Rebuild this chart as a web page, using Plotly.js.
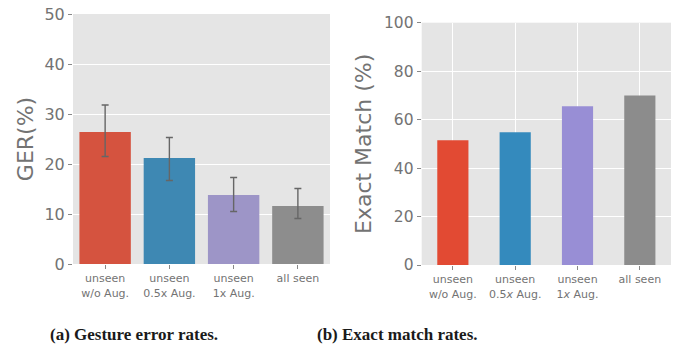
<!DOCTYPE html>
<html>
<head>
<meta charset="utf-8">
<script src="https://cdn.plot.ly/plotly-3.0.1.min.js"></script>
<style>html,body{margin:0;padding:0;background:#fff;}#chart{width:677px;height:348px;}</style>
</head>
<body>
<div id="chart"></div>
<script>
// Data
const gerCategories = ['unseen<br>w/o Aug.', 'unseen<br>0.5x Aug.', 'unseen<br>1x Aug.', 'all seen'];
const gerValues = [26.4, 21.2, 13.8, 11.6];
const gerUpper = [31.8, 25.3, 17.3, 15.1];
const gerLower = [21.5, 16.7, 10.5, 9.1];
const emCategories = ['unseen<br>w/o Aug.', 'unseen<br>0.5<i>x</i> Aug.', 'unseen<br>1<i>x</i> Aug.', 'all seen'];
const emValues = [51.5, 54.8, 65.5, 70.0];
const gerColors = ['#D5533F', '#3E88B3', '#9D95C7', '#8D8D8D'];
const emColors = ['#E24A33', '#348ABD', '#988ED5', '#8C8C8C'];
const gerTicks = [0, 10, 20, 30, 40, 50];
const emTicks = [0, 20, 40, 60, 80, 100];

const W = 677, H = 348;
const px = v => v / W, py = v => 1 - v / H;

const traces = [
  {
    type: 'bar', x: gerCategories, y: gerValues, xaxis: 'x', yaxis: 'y',
    width: 0.8, marker: {color: gerColors}, showlegend: false, hoverinfo: 'y',
    error_y: {
      type: 'data', symmetric: false,
      array: gerValues.map((v, i) => gerUpper[i] - v),
      arrayminus: gerValues.map((v, i) => v - gerLower[i]),
      color: '#666', thickness: 1.4, width: 3.5
    }
  },
  {
    type: 'bar', x: emCategories, y: emValues, xaxis: 'x2', yaxis: 'y2',
    width: 0.5, marker: {color: emColors}, showlegend: false, hoverinfo: 'y'
  }
];

const tickFont = {family: 'DejaVu Sans', size: 16, color: '#737373'};
const catFont = {family: 'DejaVu Sans', size: 11, color: '#737373'};
const titleFont = {family: 'DejaVu Sans', size: 22, color: '#737373'};

const layout = {
  width: W, height: H,
  margin: {l: 0, r: 0, t: 0, b: 0},
  paper_bgcolor: '#fff',
  plot_bgcolor: '#E5E5E5',
  font: {family: 'DejaVu Sans'},
  xaxis: {
    domain: [px(73), px(330)], anchor: 'y', type: 'category', range: [-0.5, 3.5],
    showgrid: false, zeroline: false, showline: false,
    ticks: 'outside', ticklen: 4, tickwidth: 1, tickcolor: '#888',
    tickfont: catFont
  },
  yaxis: {
    domain: [py(264), py(14)], anchor: 'x', range: [0, 50],
    tickvals: gerTicks, ticktext: gerTicks.map(String),
    showgrid: true, gridcolor: '#fff', gridwidth: 1, zeroline: false, showline: false,
    ticks: 'outside', ticklen: 4, tickwidth: 1, tickcolor: '#888',
    tickfont: tickFont,
    title: {text: 'GER(%)', font: titleFont, standoff: 4}
  },
  xaxis2: {
    domain: [px(421.7), px(671)], anchor: 'y2', type: 'category', range: [-0.5, 3.5],
    showgrid: true, gridcolor: '#fff', gridwidth: 1, zeroline: false, showline: false,
    ticks: 'outside', ticklen: 4, tickwidth: 1, tickcolor: '#888',
    tickfont: catFont
  },
  yaxis2: {
    domain: [py(265), py(22.7)], anchor: 'x2', range: [0, 100],
    tickvals: emTicks, ticktext: emTicks.map(String),
    showgrid: true, gridcolor: '#fff', gridwidth: 1, zeroline: false, showline: false,
    ticks: 'outside', ticklen: 4, tickwidth: 1, tickcolor: '#888',
    tickfont: {family: 'DejaVu Sans', size: 15.5, color: '#737373'},
    title: {text: 'Exact Match (%)', font: titleFont, standoff: 6}
  },
  annotations: [
    {text: '<b>(a) Gesture error rates.</b>', xref: 'paper', yref: 'paper',
     x: px(134), y: py(334), xanchor: 'center', yanchor: 'middle', showarrow: false,
     font: {family: 'Liberation Serif', size: 17, color: '#1a1a1a'}},
    {text: '<b>(b) Exact match rates.</b>', xref: 'paper', yref: 'paper',
     x: px(397), y: py(334), xanchor: 'center', yanchor: 'middle', showarrow: false,
     font: {family: 'Liberation Serif', size: 17, color: '#1a1a1a'}}
  ]
};

Plotly.newPlot('chart', traces, layout, {displayModeBar: false, staticPlot: true});
</script>
</body>
</html>
